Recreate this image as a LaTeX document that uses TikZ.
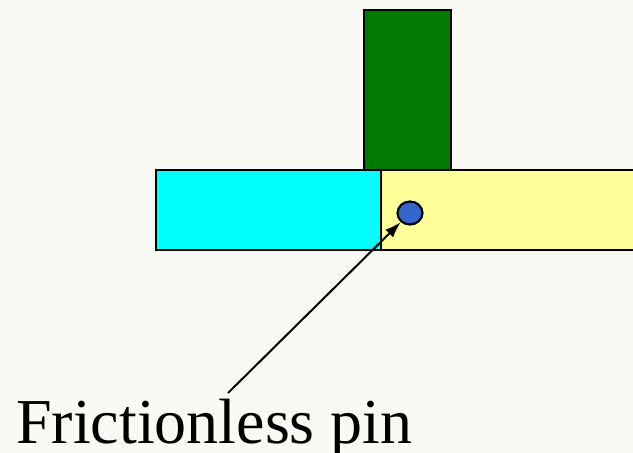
\documentclass[tikz,border=0pt]{standalone}
\usepackage{fontspec}
\setmainfont{Liberation Serif}
\usetikzlibrary{arrows.meta,shapes.geometric}
\definecolor{bg}{RGB}{250,250,245}
\definecolor{cyanbar}{RGB}{0,255,255}
\definecolor{yellowbar}{RGB}{255,255,153}
\definecolor{greenbar}{RGB}{0,122,0}
\definecolor{pinblue}{RGB}{51,102,204}
\tikzset{
  bar/.style={draw=black, line width=2.8pt},
  pin/.style={ellipse, draw=black, line width=2.2pt, fill=pinblue, minimum width=25pt, minimum height=23pt, inner sep=0pt},
  pointer/.style={line width=2pt, -{Latex[length=16pt,width=11pt]}},
  caption/.style={font=\fontsize{64}{68}\selectfont, inner sep=0pt, anchor=base west}
}
\begin{document}
\begin{tikzpicture}[x=1pt,y=-1pt]
  \clip (0,0) rectangle (633,453);
  \fill[bg] (0,0) rectangle (633,453);
  % horizontal bar: cyan left part, yellow right part
  \draw[bar, fill=yellowbar] (381,170) rectangle (660,250);
  \draw[bar, fill=cyanbar] (156,170) rectangle (381,250);
  % vertical green member
  \draw[bar, fill=greenbar] (364,10) rectangle (451,170);
  % the pin
  \node[pin] (p) at (410,213) {};
  % caption and pointer
  \node[caption] (t) at (16,443) {Frictionless pin};
  \coordinate (s) at (228,393);
  \draw[pointer] (s) -- (p);
\end{tikzpicture}
\end{document}
